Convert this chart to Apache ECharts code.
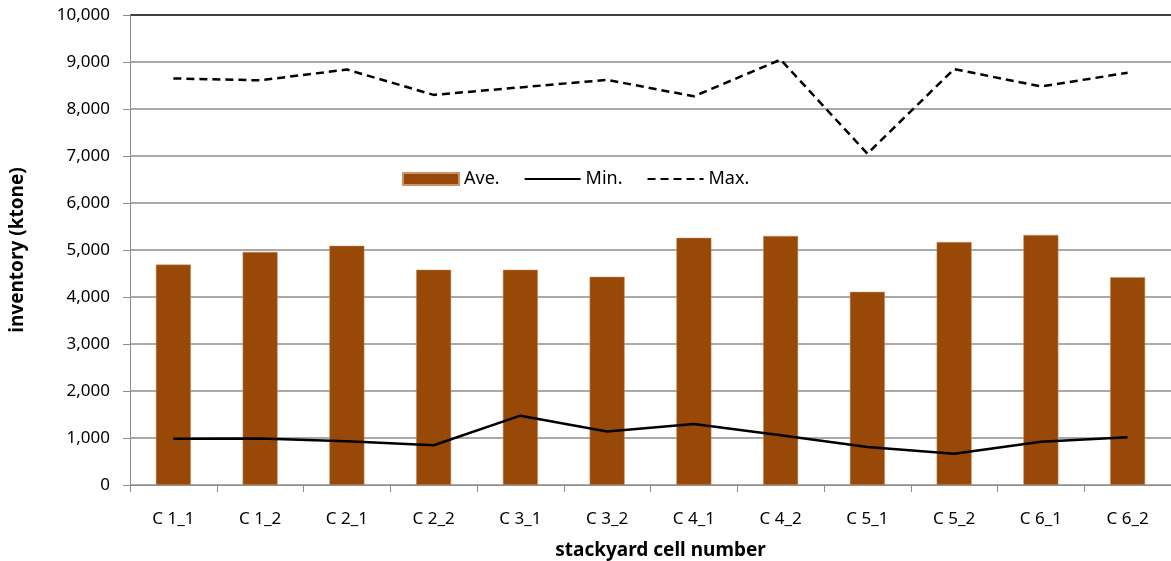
<!DOCTYPE html>
<html><head><meta charset="utf-8">
<script src="https://cdn.jsdelivr.net/npm/echarts@6/dist/echarts.min.js"></script>
<style>html,body{margin:0;padding:0;background:#fff}#c{width:1171px;height:561px}</style>
</head><body><div id="c"></div>
<script>
const categories = ['C 1_1','C 1_2','C 2_1','C 2_2','C 3_1','C 3_2','C 4_1','C 4_2','C 5_1','C 5_2','C 6_1','C 6_2'];
const aveValues = [4690,4960,5090,4580,4580,4430,5260,5300,4110,5170,5320,4420];
const minValues = [985,990,930,845,1475,1140,1300,1060,810,665,920,1015];
const maxValues = [8650,8610,8840,8300,8460,8620,8270,9050,7050,8850,8480,8770];
const seriesNames = ['Ave.','Min.','Max.'];

const font = "'Noto Sans', 'Liberation Sans', sans-serif";
const gridColors = ['#8c8c8c','#8c8c8c','#8c8c8c','#8c8c8c','#8c8c8c','#8c8c8c','#8c8c8c','#8c8c8c','#8c8c8c','#8c8c8c','#000000'];
const chart = echarts.init(document.getElementById('c'));
chart.setOption({
  animation: false,
  grid: {left: 130, right: 0, top: 15, bottom: 76, containLabel: false, outerBoundsMode: 'none'},
  legend: {
    left: 397, top: 165, itemWidth: 56, itemHeight: 12, itemGap: 24,
    textStyle: {fontFamily: font, fontSize: 18, color: '#000'},
    data: [
      {name: seriesNames[0], icon: 'rect'},
      {name: seriesNames[1], itemStyle: {opacity: 0}},
      {name: seriesNames[2], itemStyle: {opacity: 0}}
    ]
  },
  xAxis: {
    type: 'category', data: categories, boundaryGap: true,
    name: 'stackyard cell number', nameLocation: 'middle', nameGap: 56,
    nameTextStyle: {fontFamily: font, fontSize: 19, fontWeight: 'bold', color: '#000', padding: [0, 0, 0, 20]},
    axisLine: {lineStyle: {color: '#8c8c8c', width: 1}},
    axisTick: {show: true, length: 7, lineStyle: {color: '#8c8c8c'}},
    axisLabel: {fontFamily: font, fontSize: 17, color: '#000', margin: 26}
  },
  yAxis: {
    type: 'value', min: 0, max: 10000, interval: 1000,
    name: 'inventory (ktone)', nameLocation: 'middle', nameGap: 103, nameRotate: 90,
    nameTextStyle: {fontFamily: font, fontSize: 19, fontWeight: 'bold', color: '#000'},
    axisLine: {show: true, lineStyle: {color: '#8c8c8c'}},
    axisTick: {show: true, length: 7, lineStyle: {color: '#8c8c8c'}},
    axisLabel: {fontFamily: font, fontSize: 17, color: '#000', margin: 20,
      formatter: v => v.toLocaleString('en-US')},
    splitLine: {show: true, lineStyle: {color: gridColors, width: 1.5}}
  },
  series: [
    {name: seriesNames[0], type: 'bar', data: aveValues, barWidth: 35,
     itemStyle: {color: '#984807', borderColor: '#c9946a', borderWidth: 0.5}},
    {name: seriesNames[1], type: 'line', data: minValues, showSymbol: false, symbol: 'none',
     lineStyle: {color: '#000', width: 2.5}, itemStyle: {color: '#000'}},
    {name: seriesNames[2], type: 'line', data: maxValues, showSymbol: false, symbol: 'none',
     lineStyle: {color: '#000', width: 2.5, type: [8, 5]}, itemStyle: {color: '#000'}}
  ]
});
</script></body></html>
